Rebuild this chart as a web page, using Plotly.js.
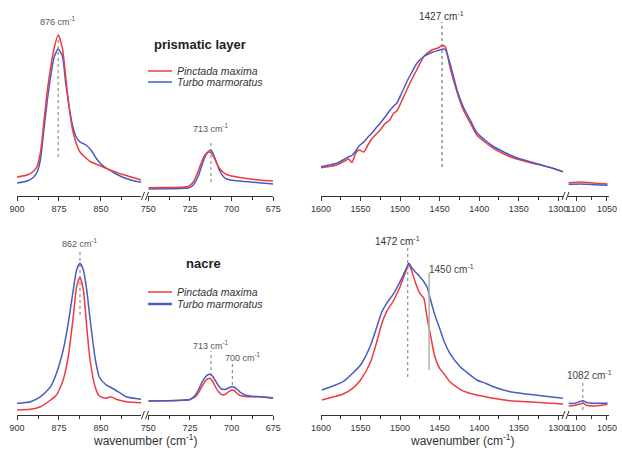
<!DOCTYPE html>
<html>
<head>
<meta charset="utf-8">
<script src="https://cdn.plot.ly/plotly-3.0.1.min.js"></script>
<style>html,body{margin:0;padding:0;background:#fff;}#chart{width:622px;height:453px;}</style>
</head>
<body>
<div id="chart"></div>
<script>
// ---------- DATA (intensity in arbitrary units) ----------
const seriesNames = ["Pinctada maxima", "Turbo marmoratus"];

// prismatic layer, 900-675 cm-1
const prisLowWn   = [900,894,890,888,886,884,882,880,878,875.5,873,871,869,867,865,862.5,859,856,853,850,846,842,838,834,830,826,
                     750,740,730,726,723,720,718,716,714,712.5,711,709,707,705,703,700,695,690,685,680,675];
const prisLowPM   = [19,21,25,30,44,74,105,128,147,161,148,119,89,67,54,44,38,34,32,30,27,24.5,22,20,18,16,
                     8.3,8.5,8.7,9.5,14,25,34,41,44,43.5,40,33,27,23.5,21.5,20,18.5,17.3,16.3,15.5,15];
const prisLowTM   = [13,15,19,24,37,66,95,119,138,147,140,113,90,71,60,54,51,46,38,32,27,23,19.5,17,15,13.7,
                     7,7.3,7.6,8,11,20,30,39,44.5,46,42,33,24.5,19.5,17,15.8,15,14.2,13.4,12.7,12];

// prismatic layer, 1600-1050 cm-1
const prisHighWn  = [1600,1590,1580,1570,1565,1561,1556,1552,1546,1540,1535,1530,1525,1519,1513,1508,1504,1498,1491,1485,1479,1470,1460,1452,1447,1443,1437,1428,1420,1411,1403,1392,1382,1370,1361,1350,1340,1330,1319,1308,1294,
                     1112,1091,1069,1049];
const prisHighPM  = [28.3,29.5,31,35,37,33.5,43,46,44,52,58,62,66,72.5,76,83,85,95,107,117,126,139.5,146,148,150.5,149.5,129,104,86,72.7,61,53.5,47.7,42.5,39.3,36.5,34.3,32.3,30.3,28,24.3,
                     13.3,14,12.7,12];
const prisHighTM  = [29.3,31,32.7,37,39.3,40.5,45,50,54,59.5,63.5,68.5,73,79,85.5,90,93,103,115,124,132.5,139.5,143.5,145.5,146.7,146.7,133,106,89,75.5,63.5,55.5,49.5,44.5,41,37.5,35.3,33,30.5,28,24.3,
                     11.7,12,11.3,10.7];

// nacre, 900-675 cm-1
const nacLowWn    = [900,892,886,880,876.5,872.5,869.5,866.5,864.5,862.5,860.5,858.5,856.5,853.5,851,847,844,841,835,826,
                     750,740,730,725,722,720,718,716,714.5,713,711.5,710,708,706,704,702,700,698.5,697,695,692,688,683,679,675];
const nacLowPM    = [5,5.7,8.3,15,20,35,58.3,98.3,128.3,137.7,125,88.3,55,28.3,19,16.7,18.3,15.7,13.3,12.3,
                     14,14.3,14.7,15.5,18,22,28,33.5,36,36.7,34,29,23.5,20.5,20.5,23,25,24.5,22,19.5,18.5,18.3,18.3,17.5,16.7];
const nacLowTM    = [11.7,13.3,18.3,28.3,41.7,65,91.7,125,145,151.7,145,125.2,96,57,38,30.2,27.5,24.5,18.3,15.8,
                     14,14.3,14.7,15.5,19.5,25,32,37.5,40,40.7,39,35,29.5,26,25.5,27,28.3,28,26,23,20,18.8,18.3,17.8,17.3];

// nacre, 1600-1050 cm-1
const nacHighWn   = [1599,1585,1572,1560,1550,1538,1530,1523,1517,1508,1500,1496,1492,1489,1485,1481,1475,1470,1466,1462,1456,1450,1445,1437,1424,1414,1403,1392,1382,1361,1340,1319,1294,
                     1112,1101.5,1094,1088.5,1083,1069,1049];
const nacHighPM   = [15,18,21,26.7,35,51.7,71.7,91.7,103.3,115,128.3,136.7,145,151,143.3,133.3,121.7,116.7,98,81.7,58.3,46.7,41.7,33.3,25.7,22.3,20,18.3,16.7,14.3,13.3,12.3,11,
                     9,9.7,11,11.7,9.7,9,10.7];
const nacHighTM   = [25,29,33.3,41.7,50,68.3,86.7,103.3,111.7,121.7,133.3,140,146.7,151.7,147,143.3,138.3,133.3,128.3,116.7,100,86.7,75,61.7,48.3,41.7,35,31.7,28.3,23.3,21,19,16.7,
                     11.7,11.7,13.5,14.3,12.5,11.7,12];

// tick labels
const lowLeftTicks  = [900, 875, 850];
const lowRightTicks = [750, 725, 700, 675];
const highLeftTicks = [1600, 1550, 1500, 1450, 1400, 1350, 1300];
const highRightTicks= [1100, 1050];

// ---------- STYLE ----------
const RED = '#ef3a40', BLUE = '#4a5bc2';
const W = 622, H = 453;
const fx = p => p / W;
const fy = p => (H - p) / H;
const FONT = 'Arial, "Liberation Sans", sans-serif';

function pick(wn, vals, test) {
  const x = [], y = [];
  wn.forEach((w, i) => { if (test(w)) { x.push(w); y.push(vals[i]); } });
  return {x, y};
}
function tr(wn, vals, test, color, xa, ya) {
  const d = pick(wn, vals, test);
  return {x: d.x, y: d.y, type: 'scatter', mode: 'lines', xaxis: xa, yaxis: ya,
          line: {color: color, width: 1.5, shape: 'spline', smoothing: 0.6},
          hoverinfo: 'skip', showlegend: false};
}
const isLowL = w => w > 800, isLowR = w => w <= 800;
const isHighL = w => w > 1200, isHighR = w => w <= 1200;

const data = [
  tr(prisLowWn, prisLowTM, isLowL, BLUE, 'x', 'y'),
  tr(prisLowWn, prisLowPM, isLowL, RED, 'x', 'y'),
  tr(prisLowWn, prisLowTM, isLowR, BLUE, 'x2', 'y'),
  tr(prisLowWn, prisLowPM, isLowR, RED, 'x2', 'y'),
  tr(prisHighWn, prisHighPM, isHighL, RED, 'x3', 'y2'),
  tr(prisHighWn, prisHighTM, isHighL, BLUE, 'x3', 'y2'),
  tr(prisHighWn, prisHighPM, isHighR, RED, 'x4', 'y2'),
  tr(prisHighWn, prisHighTM, isHighR, BLUE, 'x4', 'y2'),
  tr(nacLowWn, nacLowPM, isLowL, RED, 'x5', 'y3'),
  tr(nacLowWn, nacLowTM, isLowL, BLUE, 'x5', 'y3'),
  tr(nacLowWn, nacLowPM, isLowR, RED, 'x6', 'y3'),
  tr(nacLowWn, nacLowTM, isLowR, BLUE, 'x6', 'y3'),
  tr(nacHighWn, nacHighPM, isHighL, RED, 'x7', 'y4'),
  tr(nacHighWn, nacHighTM, isHighL, BLUE, 'x7', 'y4'),
  tr(nacHighWn, nacHighPM, isHighR, RED, 'x8', 'y4'),
  tr(nacHighWn, nacHighTM, isHighR, BLUE, 'x8', 'y4')
];

function xax(range, dom, anchor, tickvals, minorDtick) {
  return {range: range, autorange: false, domain: [fx(dom[0]), fx(dom[1])], anchor: anchor,
    showline: true, linecolor: '#333', linewidth: 1, ticks: 'outside', ticklen: 4, tickwidth: 1,
    tickcolor: '#333', tickmode: 'array', tickvals: tickvals,
    tickfont: {family: FONT, size: 9, color: '#333'},
    minor: {ticks: 'outside', ticklen: 3, tickcolor: '#333', tickmode: 'linear', dtick: minorDtick, tick0: tickvals[0]},
    showgrid: false, zeroline: false, fixedrange: true, automargin: false};
}
function yax(range, dom, anchor) {
  return {range: range, autorange: false, domain: [fy(dom[0]), fy(dom[1])], anchor: anchor,
    visible: false, showgrid: false, zeroline: false, fixedrange: true};
}

const L1 = [17, 141.3], L2 = [148.3, 273.3], R1 = [321, 563], R2 = [568, 608.8];
const layout = {
  width: W, height: H, margin: {l: 0, r: 0, t: 0, b: 0},
  paper_bgcolor: '#fff', plot_bgcolor: 'rgba(0,0,0,0)', showlegend: false,
  font: {family: FONT, color: '#333'},
  xaxis:  xax([900, 826], L1, 'y', lowLeftTicks, 12.5),
  xaxis2: xax([750, 675], L2, 'y', lowRightTicks, 12.5),
  xaxis3: xax([1600, 1294], R1, 'y2', highLeftTicks, 25),
  xaxis4: xax([1113, 1047], R2, 'y2', highRightTicks, 25),
  xaxis5: xax([900, 826], L1, 'y3', lowLeftTicks, 12.5),
  xaxis6: xax([750, 675], L2, 'y3', lowRightTicks, 12.5),
  xaxis7: xax([1600, 1294], R1, 'y4', highLeftTicks, 25),
  xaxis8: xax([1113, 1047], R2, 'y4', highRightTicks, 25),
  yaxis:  yax([0, 176], [196, 20], 'x'),
  yaxis2: yax([0, 176], [196, 20], 'x3'),
  yaxis3: yax([0, 175], [415, 240], 'x5'),
  yaxis4: yax([0, 175], [415, 240], 'x7'),
  shapes: [], annotations: []
};

function vline(xa, ya, x, y0, y1, dash, color, width) {
  layout.shapes.push({type: 'line', xref: xa, yref: ya, x0: x, x1: x, y0: y0, y1: y1,
    line: {color: color || '#777', width: width || 1, dash: dash || 'dot'}});
}
function label(xa, ya, x, y, text, size, opts) {
  layout.annotations.push(Object.assign({xref: xa, yref: ya, x: x, y: y, text: text, showarrow: false,
    xanchor: 'center', yanchor: 'middle', font: {family: FONT, size: size || 9, color: '#555'}}, opts || {}));
}
function plabel(px, py, text, size, opts) {
  label('paper', 'paper', fx(px), fy(py), text, size, opts);
}
function pline(x0, y0, x1, y1, color, width) {
  layout.shapes.push({type: 'line', xref: 'paper', yref: 'paper', x0: fx(x0), x1: fx(x1), y0: fy(y0), y1: fy(y1),
    line: {color: color, width: width}});
}

// peak markers
vline('x', 'y', 875.5, 39, 159);
label('x', 'y', 875.5, 175, '876 cm<sup>-1</sup>', 9);
vline('x2', 'y', 712.4, 14, 56);
label('x2', 'y', 712.4, 68, '713 cm<sup>-1</sup>', 9);
vline('x3', 'y2', 1447, 29, 174, 'dot', '#555');
plabel(441.7, 16, '1427 cm<sup>-1</sup>', 10, {font: {family: FONT, size: 10, color: '#333'}});

vline('x5', 'y3', 862.5, 100, 163);
label('x5', 'y3', 862.5, 172, '862 cm<sup>-1</sup>', 9);
vline('x6', 'y3', 712.4, 39, 64);
label('x6', 'y3', 712.4, 70, '713 cm<sup>-1</sup>', 9);
vline('x6', 'y3', 699.6, 30, 53);
label('x6', 'y3', 693.2, 58, '700 cm<sup>-1</sup>', 9);
vline('x7', 'y4', 1490.3, 38, 167);
label('x7', 'y4', 1503.8, 174, '1472 cm<sup>-1</sup>', 10, {font: {family: FONT, size: 10, color: '#333'}});
vline('x7', 'y4', 1463.3, 45, 142, 'solid', '#b0b0b0', 1.5);
label('x7', 'y4', 1466.3, 146, '1450 cm<sup>-1</sup>', 10, {xanchor: 'left', font: {family: FONT, size: 10, color: '#444'}});
vline('x8', 'y4', 1089, 5, 35);
label('x8', 'y4', 1079, 40, '1082 cm<sup>-1</sup>', 10, {font: {family: FONT, size: 10, color: '#444'}});

// panel titles and legends
plabel(200, 45, '<b>prismatic layer</b>', 13, {font: {family: FONT, size: 13, color: '#222'}});
plabel(203, 263, '<b>nacre</b>', 13, {font: {family: FONT, size: 13, color: '#222'}});
pline(148, 71, 172, 71, RED, 1.5); pline(148, 82, 172, 82, BLUE, 1.5);
pline(148, 292, 172, 292, RED, 1.5); pline(148, 304, 172, 304, BLUE, 2.5);
[[71, 0], [82, 1], [292, 0], [304, 1]].forEach(([py, k]) =>
  plabel(175, py, '<i>' + seriesNames[k] + '</i>', 10.5, {xanchor: 'left', font: {family: FONT, size: 10.5, color: '#333'}}));

// axis titles
plabel(145, 440, 'wavenumber (cm<sup>-1</sup>)', 12, {font: {family: FONT, size: 12, color: '#333'}});
plabel(462, 440, 'wavenumber (cm<sup>-1</sup>)', 12, {font: {family: FONT, size: 12, color: '#333'}});

// axis breaks (two slanted strokes each)
[[145, 196], [565.5, 196], [145, 415], [565.5, 415]].forEach(([cx, cy]) => {
  pline(cx - 3.5, cy + 4, cx - 0.5, cy - 4, '#333', 1);
  pline(cx + 0.5, cy + 4, cx + 3.5, cy - 4, '#333', 1);
});

Plotly.newPlot('chart', data, layout, {staticPlot: true, displayModeBar: false});
</script>
</body>
</html>
